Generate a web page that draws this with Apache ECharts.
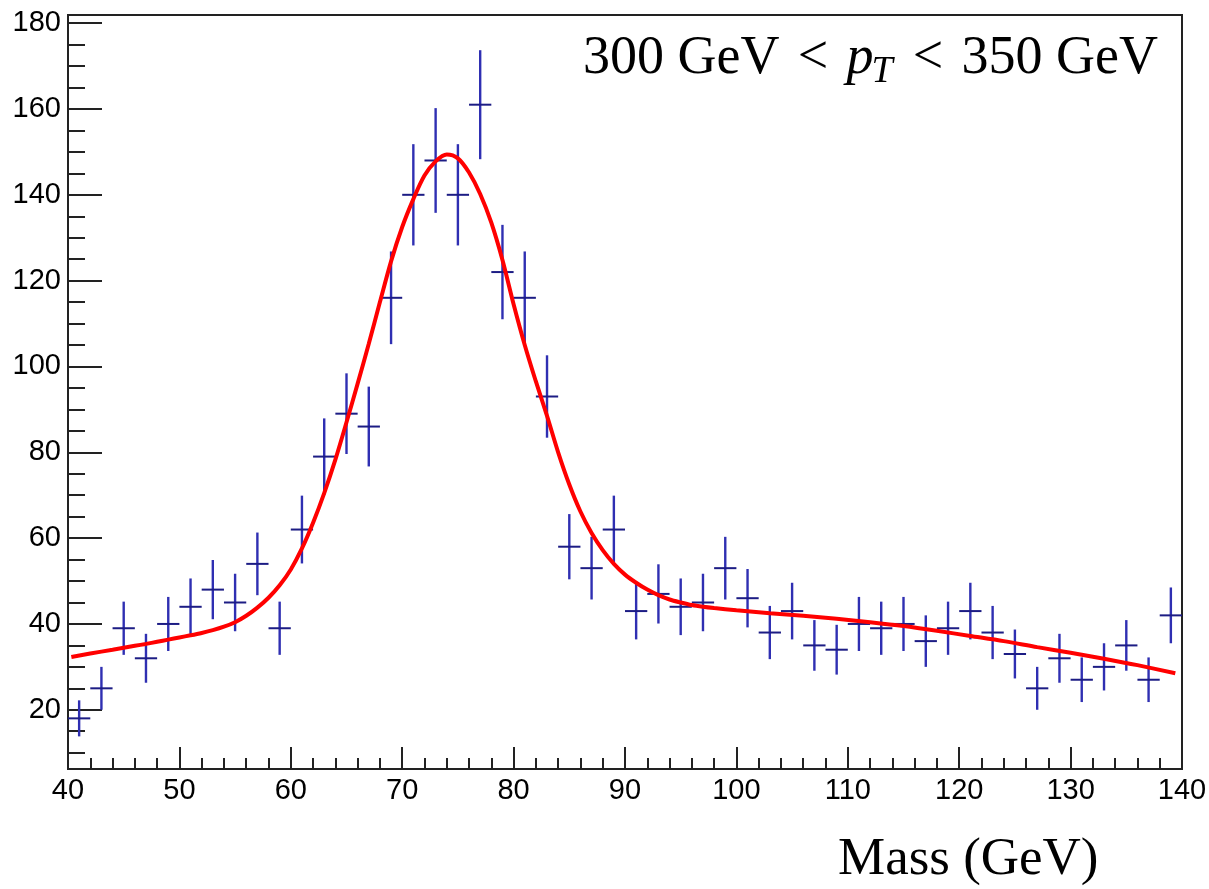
<!DOCTYPE html>
<html>
<head>
<meta charset="utf-8">
<script src="https://cdn.jsdelivr.net/npm/echarts@6/dist/echarts.min.js"></script>
<style>
html,body{margin:0;padding:0;background:#ffffff;}
#chart{width:1209px;height:889px;}
</style>
</head>
<body>
<div id="chart"></div>
<script>
// ---- data ----
const binCenters = [41,43,45,47,49,51,53,55,57,59,61,63,65,67,69,71,73,75,77,79,81,83,85,87,89,91,93,95,97,99,101,103,105,107,109,111,113,115,117,119,121,123,125,127,129,131,133,135,137,139];
const counts = [18,25,39,32,40,44,48,45,54,39,62,79,89,86,116,140,148,140,161,122,116,93,58,53,62,43,47,44,45,53,46,38,43,35,34,40,39,40,36,39,43,38,33,25,32,27,30,35,27,42];
const errors = [4.2,5.0,6.2,5.7,6.3,6.6,6.9,6.7,7.3,6.2,7.9,8.9,9.4,9.3,10.8,11.8,12.2,11.8,12.7,11.0,10.8,9.6,7.6,7.3,7.9,6.6,6.9,6.6,6.7,7.3,6.8,6.2,6.6,5.9,5.8,6.3,6.2,6.3,6.0,6.2,6.6,6.2,5.7,5.0,5.7,5.2,5.5,5.9,5.2,6.5];

const fitX = [40.3,42,44,46,47,48,49,50,51,52,53,54,55,56,57,58,59,60,61,62,63,64,65,66,67,68,69,70,71,72,73,74,75,76,77,78,79,80,81,82,83,84,85,86,87,88,89,90,91,92,93,94,95,96,97,98,100,103,106,109,112,115,118,121,124,127,130,133,136,139.4];
const fitY = [32.3,33.1,34.0,34.9,35.35,35.85,36.35,36.85,37.35,37.9,38.55,39.35,40.4,41.9,43.8,46.1,49.0,52.7,57.6,63.6,70.5,78.3,87.0,96.0,105.3,115.0,124.5,132.5,139.0,144.5,147.8,149.4,148.5,145.2,140.2,133.5,124.8,114.5,105.0,96.5,88.5,80.0,72.5,66.2,61.2,57.2,54.0,51.5,49.6,48.0,46.7,45.7,45.0,44.4,44.0,43.7,43.2,42.5,41.9,41.2,40.4,39.5,38.4,37.2,36.0,34.6,33.3,31.9,30.4,28.5];

const yMajorTicks = [20,40,60,80,100,120,140,160,180];
const yMinorTicks = [10,15,20,25,30,35,40,45,50,55,60,65,70,75,80,85,90,95,100,105,110,115,120,125,130,135,140,145,150,155,160,165,170,175,180];

const xMin = 40, xMax = 140, xStep = 10;
const yMin = 6.2, yMax = 181.9;

const titleParts = ['300 GeV', '<', 'p', 'T', '<', '350 GeV'];
const xAxisTitle = 'Mass (GeV)';

// ---- build ----
const errData = binCenters.map((x, i) => [x, counts[i], errors[i]]);
const fitData = fitX.map((x, i) => [x, fitY[i]]);
const halfBin = (binCenters[1] - binCenters[0]) / 2;

// text layout for the pT range label
const SERIF = '"Liberation Serif", "Times New Roman", serif';
const mctx = document.createElement('canvas').getContext('2d');
function tw(txt, font) { mctx.font = font; return mctx.measureText(txt).width; }
const fs = 54, fsSub = 38;
const fN = fs + 'px ' + SERIF, fI = 'italic ' + fs + 'px ' + SERIF, fS = 'italic ' + fsSub + 'px ' + SERIF;
const wA = tw(titleParts[0], fN), wLt = tw(titleParts[1], fN), wP = tw(titleParts[2], fI), wT = tw(titleParts[3], fS), wB = tw(titleParts[5], fN);
const leftEdge = 583, rightEdge = 1158;
const natural = wA + wLt + wP + wT + wLt + wB;
const gap = (rightEdge - leftEdge - natural) / 4;
const baseY = 77;
let cx = leftEdge;
const tEls = [];
function addText(txt, font, x, baseline, size) {
  tEls.push({type:'text', x: x, y: baseline - 0.335 * size, silent:true,
    style:{text: txt, font: font, fill:'#000', align:'left', verticalAlign:'middle'}});
}
addText(titleParts[0], fN, cx, baseY, fs); cx += wA + gap;
addText(titleParts[1], fN, cx, baseY, fs); cx += wLt + gap;
addText(titleParts[2], fI, cx, baseY, fs); cx += wP - 2;
addText(titleParts[3], fS, cx, baseY + 8, fsSub); cx += wT + 2 + gap;
addText(titleParts[4], fN, cx, baseY, fs); cx += wLt + gap;
addText(titleParts[5], fN, cx, baseY, fs);
addText(xAxisTitle, '53px ' + SERIF, 838, 878, 53);

const labelFont = {fontFamily: '"Liberation Sans", Arial, sans-serif', fontSize: 29, color: '#000'};

const chart = echarts.init(document.getElementById('chart'), null, {renderer:'canvas'});
chart.setOption({
  animation: false,
  backgroundColor: '#ffffff',
  grid: {left: 68, right: 27, top: 15, bottom: 120, show: true, borderColor: '#222', borderWidth: 2, backgroundColor: 'transparent', containLabel: false, outerBoundsMode: 'none'},
  xAxis: {
    type: 'value', min: xMin, max: xMax, interval: xStep,
    axisLine: {show: true, onZero: false, lineStyle: {color: '#222', width: 2}},
    axisTick: {show: true, inside: true, length: 22, lineStyle: {color: '#222', width: 2}},
    minorTick: {show: true, splitNumber: 5, length: 11, lineStyle: {color: '#222', width: 2}},
    axisLabel: Object.assign({margin: 7, showMinLabel: true, showMaxLabel: true}, labelFont),
    splitLine: {show: false}, minorSplitLine: {show: false}
  },
  yAxis: [{
    type: 'value', min: yMin, max: yMax, position: 'left', offset: 0,
    axisLine: {show: true, onZero: false, lineStyle: {color: '#222', width: 2}},
    axisTick: {show: true, inside: true, length: 17, customValues: yMinorTicks, lineStyle: {color: '#222', width: 2}},
    axisLabel: {show: false},
    splitLine: {show: false}
  }, {
    type: 'value', min: yMin, max: yMax, position: 'left', offset: 0,
    axisLine: {show: false},
    axisTick: {show: true, inside: true, length: 34, customValues: yMajorTicks, lineStyle: {color: '#222', width: 2}},
    axisLabel: Object.assign({show: true, margin: 7, customValues: yMajorTicks}, labelFont),
    splitLine: {show: false}
  }],
  series: [{
    type: 'custom', name: 'data', xAxisIndex: 0, yAxisIndex: 0, clip: true,
    encode: {x: 0, y: 1},
    data: errData,
    renderItem: function (params, api) {
      const x = api.value(0), y = api.value(1), e = api.value(2);
      const pL = api.coord([x - halfBin, y]), pR = api.coord([x + halfBin, y]);
      const pT = api.coord([x, y + e]), pB = api.coord([x, y - e]);
      return {type: 'group', children: [
        {type: 'line', shape: {x1: pT[0], y1: pT[1], x2: pB[0], y2: pB[1]}, style: {stroke: '#2f2fb2', lineWidth: 2.4}},
        {type: 'line', shape: {x1: pL[0], y1: pL[1], x2: pR[0], y2: pR[1]}, style: {stroke: '#1c1c84', lineWidth: 2}}
      ]};
    },
    z: 2
  }, {
    type: 'line', name: 'fit', xAxisIndex: 0, yAxisIndex: 0,
    data: fitData, smooth: 0.3, showSymbol: false, symbol: 'none',
    lineStyle: {color: '#ff0000', width: 4}, clip: true, z: 3
  }],
  graphic: {elements: tEls}
});
</script>
</body>
</html>
